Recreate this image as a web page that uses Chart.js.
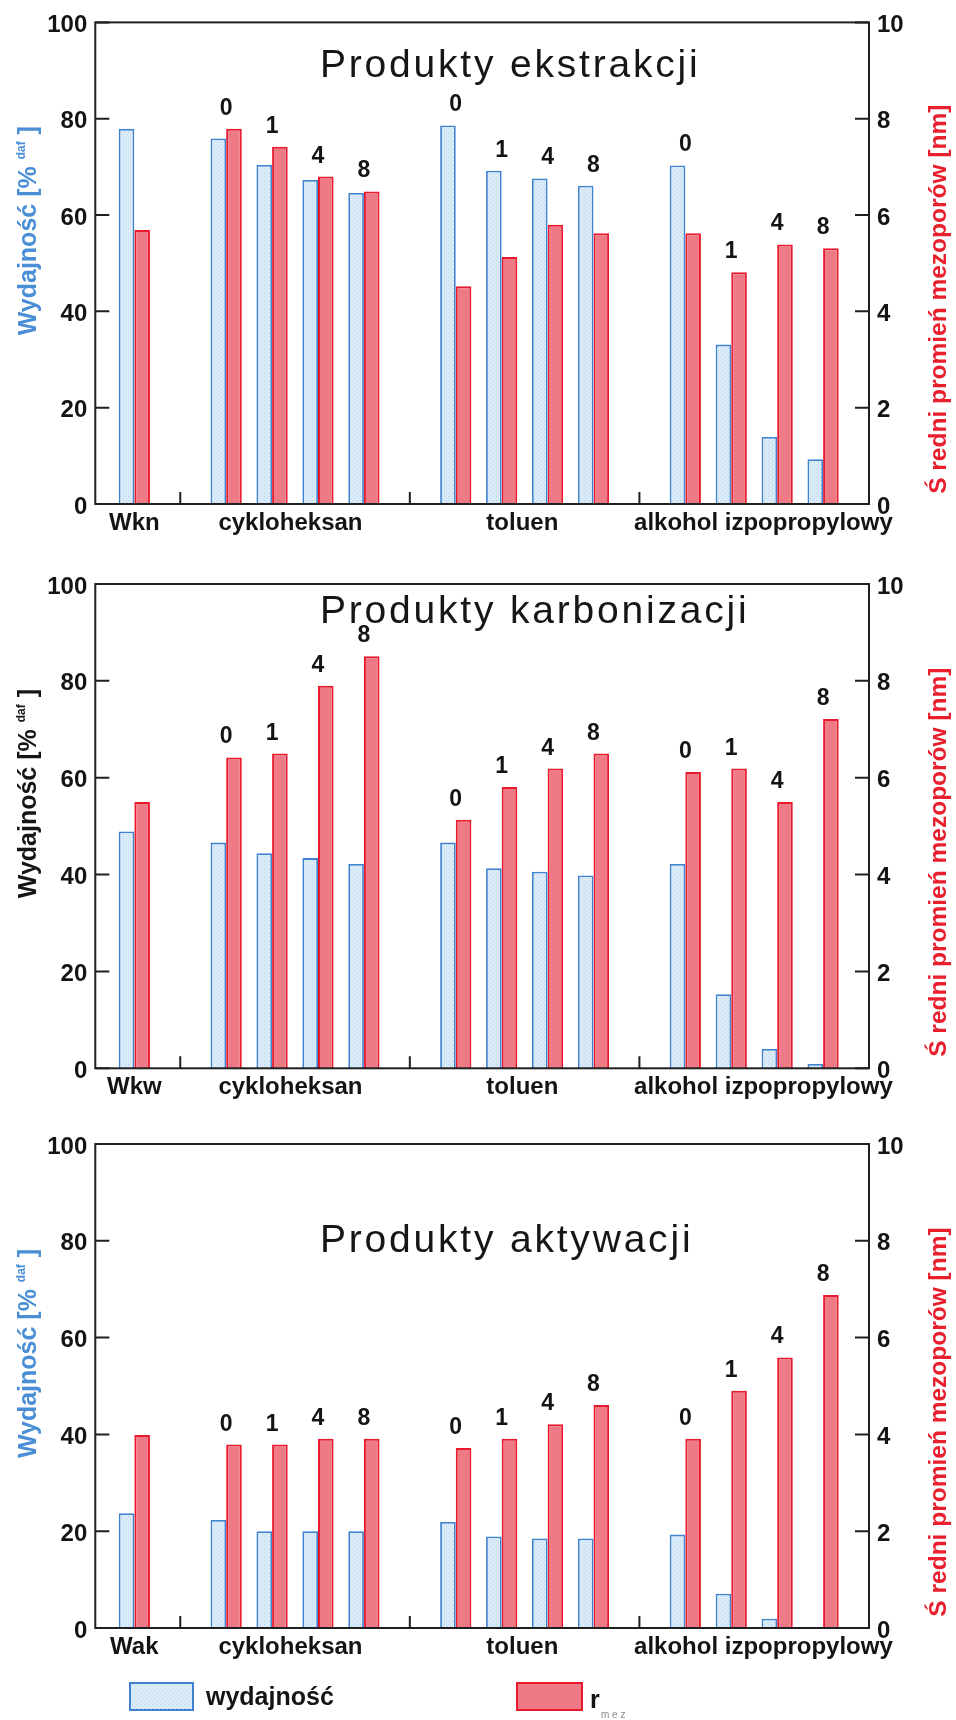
<!DOCTYPE html>
<html><head><meta charset="utf-8">
<script src="https://cdn.jsdelivr.net/npm/chart.js@4.4.1/dist/chart.umd.min.js"></script>
<style>
html,body{margin:0;padding:0;background:#fff;}
#wrap{position:relative;width:956px;height:1720px;overflow:hidden;background:#fff;}
canvas{position:absolute;left:0;}
</style></head><body>
<div id="wrap">
<canvas id="c1" width="956" height="560" style="top:0px"></canvas>
<canvas id="c2" width="956" height="560" style="top:560px"></canvas>
<canvas id="c3" width="956" height="600" style="top:1120px"></canvas>
</div>
<script>
// ---- data ----
const slotIndex = [0, 2, 3, 4, 5, 7, 8, 9, 10, 12, 13, 14, 15];
const timeLabels = ['', '0', '1', '4', '8', '0', '1', '4', '8', '0', '1', '4', '8'];
const groupLabelPos = [0, 3.4, 8.45, 13.7];
const groupDividers = [1, 6, 11];

const groupsExtraction = ['Wkn', 'cykloheksan', 'toluen', 'alkohol izpopropylowy'];
const groupsCarbonization = ['Wkw', 'cykloheksan', 'toluen', 'alkohol izpopropylowy'];
const groupsActivation = ['Wak', 'cykloheksan', 'toluen', 'alkohol izpopropylowy'];

const yieldExtraction = [77.9, 75.9, 70.4, 67.3, 64.6, 78.6, 69.2, 67.6, 66.1, 70.3, 33.1, 13.9, 9.3];
const radiusExtraction = [5.69, 7.79, 7.42, 6.80, 6.49, 4.52, 5.13, 5.80, 5.62, 5.62, 4.81, 5.39, 5.31];
const yieldCarbonization = [48.9, 46.6, 44.4, 43.4, 42.2, 46.6, 41.3, 40.6, 39.8, 42.2, 15.3, 4.0, 0.9];
const radiusCarbonization = [5.50, 6.42, 6.50, 7.90, 8.51, 5.13, 5.81, 6.19, 6.50, 6.12, 6.19, 5.50, 7.21];
const yieldActivation = [23.7, 22.3, 20.0, 20.0, 20.0, 21.9, 18.9, 18.5, 18.5, 19.3, 7.1, 1.9, 0];
const radiusActivation = [3.99, 3.79, 3.79, 3.91, 3.91, 3.72, 3.91, 4.21, 4.61, 3.91, 4.90, 5.59, 6.88];

const titles = ['Produkty ekstrakcji', 'Produkty karbonizacji', 'Produkty aktywacji'];
const leftAxisTitle = ['Wydajność [% ', 'daf', ' ]'];
const rightAxisTitle = 'Ś redni promień mezoporów [nm]';
const legendLabels = ['wydajność', 'r', 'm e z'];

// ---- styles ----
const FONT = '"Liberation Sans", Arial, Helvetica, sans-serif';
Chart.defaults.font.family = FONT;
const BLUE_BORDER = '#3f82d0';
const RED_FILL = '#ee7a86';
const RED_BORDER = '#e81a2d';
const BLUE_TEXT = '#4a8fd6';
const RED_TEXT = '#e8202e';

function makePattern() {
  const c = document.createElement('canvas');
  c.width = 4; c.height = 4;
  const g = c.getContext('2d');
  g.fillStyle = '#dbecf8'; g.fillRect(0, 0, 4, 4);
  g.fillStyle = '#b2d3ec'; g.fillRect(0, 0, 1, 1); g.fillRect(2, 2, 1, 1);
  return g.createPattern(c, 'repeat');
}
const bluePattern = makePattern();

function drawVertical(ctx, runs, baseX, centerY, color) {
  ctx.save();
  ctx.translate(baseX, centerY);
  ctx.rotate(-Math.PI / 2);
  ctx.fillStyle = color;
  ctx.textAlign = 'left';
  ctx.textBaseline = 'alphabetic';
  let total = 0;
  runs.forEach(r => { ctx.font = r.font; r.w = ctx.measureText(r.text).width; total += r.w; });
  let x = -total / 2;
  runs.forEach(r => { ctx.font = r.font; ctx.fillText(r.text, x, r.dy || 0); x += r.w; });
  ctx.restore();
}

const decoPlugin = {
  id: 'deco',
  afterDatasetsDraw(chart, args, o) {
    const ctx = chart.ctx, a = chart.chartArea;
    const xs = chart.scales.x, ys = chart.scales.y, y2 = chart.scales.y2;
    ctx.save();
    // frame
    ctx.strokeStyle = '#1f1f1f';
    ctx.lineWidth = 2;
    ctx.strokeRect(a.left, a.top, a.right - a.left, a.bottom - a.top);
    // inward ticks
    ctx.beginPath();
    ys.ticks.forEach(t => { const p = ys.getPixelForValue(t.value); ctx.moveTo(a.left, p); ctx.lineTo(a.left + 14, p); });
    y2.ticks.forEach(t => { const p = y2.getPixelForValue(t.value); ctx.moveTo(a.right - 14, p); ctx.lineTo(a.right, p); });
    groupDividers.forEach(v => { const p = xs.getPixelForValue(v); ctx.moveTo(p, a.bottom); ctx.lineTo(p, a.bottom - 12); });
    ctx.stroke();
    // time labels above bar pairs
    const m0 = chart.getDatasetMeta(0).data, m1 = chart.getDatasetMeta(1).data;
    ctx.fillStyle = '#141414';
    ctx.font = 'bold 23px ' + FONT;
    ctx.textAlign = 'center';
    ctx.textBaseline = 'alphabetic';
    timeLabels.forEach((lab, i) => {
      if (!lab) return;
      const top = Math.min(m0[i].y, m1[i].y);
      const x = (m0[i].x + m1[i].x) / 2;
      ctx.fillText(lab, x, top - 14);
    });
    // panel title
    ctx.font = '39px ' + FONT;
    ctx.textAlign = 'left';
    ctx.fillStyle = '#161616';
    try { ctx.letterSpacing = '2.8px'; } catch (e) {}
    ctx.fillText(o.title, 320, o.titleBaseline);
    try { ctx.letterSpacing = '0px'; } catch (e) {}
    // axis titles
    const mid = (a.top + a.bottom) / 2;
    drawVertical(ctx, [
      { text: leftAxisTitle[0], font: 'bold 25px ' + FONT },
      { text: leftAxisTitle[1], font: 'bold 12px ' + FONT, dy: -11 },
      { text: leftAxisTitle[2], font: 'bold 25px ' + FONT }
    ], 36, mid - 32.5, o.leftColor);
    drawVertical(ctx, [{ text: rightAxisTitle, font: 'bold 24.5px ' + FONT }], 946, mid + 36, RED_TEXT);
    // legend
    if (o.legend) {
      const ly = o.legendTop;
      ctx.lineWidth = 2;
      ctx.fillStyle = bluePattern;
      ctx.fillRect(130, ly, 63, 27);
      ctx.strokeStyle = BLUE_BORDER;
      ctx.strokeRect(130, ly, 63, 27);
      ctx.fillStyle = RED_FILL;
      ctx.fillRect(517, ly, 65, 27);
      ctx.strokeStyle = RED_BORDER;
      ctx.strokeRect(517, ly, 65, 27);
      ctx.fillStyle = '#141414';
      ctx.font = 'bold 25px ' + FONT;
      ctx.textAlign = 'left';
      ctx.fillText(legendLabels[0], 206, ly + 22);
      ctx.fillText(legendLabels[1], 590, ly + 25);
      ctx.fillStyle = '#8a8a8a';
      ctx.font = '10px ' + FONT;
      ctx.fillText(legendLabels[2], 601, ly + 35);
    }
    ctx.restore();
  }
};

function makeChart(id, groups, yields, radii, opt) {
  const tickFont = { size: 24, weight: 'bold', family: FONT };
  return new Chart(document.getElementById(id), {
    type: 'bar',
    data: {
      datasets: [
        {
          label: 'wydajność',
          data: slotIndex.map((x, i) => ({ x: x, y: yields[i] })),
          yAxisID: 'y', xAxisID: 'x',
          backgroundColor: bluePattern, borderColor: BLUE_BORDER, borderWidth: 1.8,
          categoryPercentage: 0.68, barPercentage: 1.0
        },
        {
          label: 'r mez',
          data: slotIndex.map((x, i) => ({ x: x, y: radii[i] })),
          yAxisID: 'y2', xAxisID: 'x',
          backgroundColor: RED_FILL, borderColor: RED_BORDER, borderWidth: 2,
          categoryPercentage: 0.68, barPercentage: 1.0
        }
      ]
    },
    options: {
      responsive: false, animation: false, events: [],
      layout: { padding: { top: opt.top, left: 0, right: 0, bottom: 0 } },
      plugins: {
        legend: { display: false }, tooltip: { enabled: false },
        deco: opt.deco
      },
      scales: {
        x: {
          type: 'linear', position: 'bottom', offset: false,
          min: -0.85, max: 16.0,
          grid: { display: false, drawTicks: false },
          border: { display: false },
          afterBuildTicks: s => { s.ticks = groupLabelPos.map(v => ({ value: v })); },
          afterFit: s => { s.height = opt.xHeight; },
          ticks: {
            autoSkip: false, maxRotation: 0, padding: 5, color: '#141414',
            font: { size: 24, weight: 'bold', family: FONT },
            callback: (v, i) => groups[i]
          }
        },
        y: {
          type: 'linear', position: 'left', min: 0, max: 100,
          grid: { display: false, drawTicks: false },
          border: { display: false },
          afterFit: s => { s.width = 95.3; },
          ticks: { stepSize: 20, padding: 8, labelOffset: 3, color: '#141414', font: tickFont }
        },
        y2: {
          type: 'linear', position: 'right', min: 0, max: 10,
          grid: { display: false, drawTicks: false },
          border: { display: false },
          afterFit: s => { s.width = 87; },
          ticks: { stepSize: 2, padding: 8, labelOffset: 3, color: '#141414', font: tickFont }
        }
      }
    },
    plugins: [decoPlugin]
  });
}

makeChart('c1', groupsExtraction, yieldExtraction, radiusExtraction, {
  top: 19.5, xHeight: 56,
  deco: { title: titles[0], titleBaseline: 76.5, leftColor: BLUE_TEXT, legend: false }
});
makeChart('c2', groupsCarbonization, yieldCarbonization, radiusCarbonization, {
  top: 24, xHeight: 51.7,
  deco: { title: titles[1], titleBaseline: 63.3, leftColor: '#161616', legend: false }
});
makeChart('c3', groupsActivation, yieldActivation, radiusActivation, {
  top: 24, xHeight: 92,
  deco: { title: titles[2], titleBaseline: 132, leftColor: BLUE_TEXT, legend: true, legendTop: 563 }
});
</script>
</body></html>
